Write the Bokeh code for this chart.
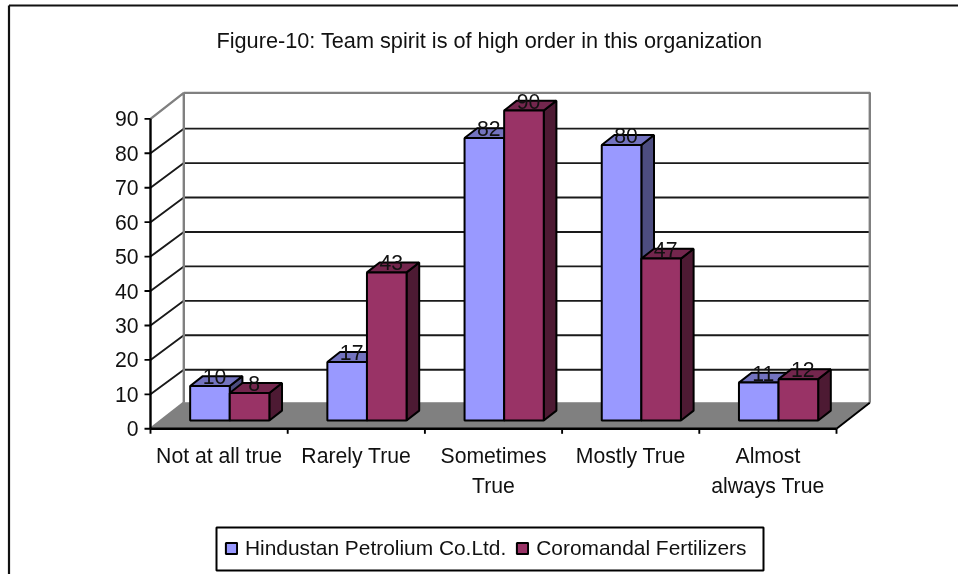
from bokeh.plotting import figure
from bokeh.models import Legend, LegendItem, Range1d
from bokeh.core.properties import value
from bokeh.embed import file_html
from bokeh.resources import INLINE

title = "Figure-10: Team spirit is of high order in this organization"
categories = ["Not at all true", "Rarely True", "Sometimes\nTrue", "Mostly True", "Almost\nalways True"]
hindustan = [10, 17, 82, 80, 11]
coromandal = [8, 43, 90, 47, 12]
y_ticks = [0, 10, 20, 30, 40, 50, 60, 70, 80, 90]
series_names = ["Hindustan Petrolium Co.Ltd.", "Coromandal Fertilizers"]
FACE = ["#9999FF", "#993366"]
TOP = ["#7373BF", "#73264D"]
SIDE = ["#4D4D80", "#4D1A33"]

W, H = 958, 574
X0, Y0 = 150.0, 428.3          # pixel of the axes origin
CAT_W, UNIT = 137.2, 3.444     # pixels per category, per value unit
FONT = "Liberation Sans"
FS = "21.2px"


def xd(px):
    return (px - X0) / CAT_W


def yd(py):
    return (Y0 - py) / UNIT


DX = 33.3 / CAT_W              # depth of the floor
DY = 26.0 / UNIT
BAR_W = 39.6 / CAT_W
F0, F1 = 0.32, 0.70            # bars' front and back, as share of the depth
N = len(categories)
TOP_V = y_ticks[-1]

p = figure(width=W, height=H, output_backend="svg", toolbar_location=None,
           x_range=Range1d(xd(0), xd(W)), y_range=Range1d(yd(H), yd(0)),
           x_axis_location=None, y_axis_location=None, min_border=0,
           background_fill_color="white", border_fill_color="white")
p.styles = {"position": "fixed", "left": "0px", "top": "0px"}
p.grid.visible = False
p.outline_line_color = None

# outer chart border
p.segment([xd(8.5), xd(8.5)], [yd(5), yd(5)], [xd(958), xd(8.5)], [yd(5), yd(574)],
          line_color="#111111", line_width=2.2)

# floor
p.patch([0, N, N + DX, DX], [0, 0, DY, DY], fill_color="#808080", line_color="#808080", line_width=1)

# gridlines: side wall + back wall
gt = y_ticks[1:-1]
p.multi_line([[0, DX, N + DX] for _ in gt], [[v, v + DY - 0.4, v + DY - 0.4] for v in gt],
             line_color="#1a1a1a", line_width=1.9)

# walls' outline
p.multi_line([[0, DX, DX], [DX, N + DX, N + DX], [0, DX]],
             [[TOP_V, TOP_V + DY, DY], [TOP_V + DY, TOP_V + DY, DY], [0, DY]],
             line_color="#808080", line_width=2.4)
p.line([N, N + DX], [0, DY], line_color="black", line_width=1.9)

# bars
front_renderers = []
for j, vals in enumerate([hindustan, coromandal]):
    lefts = [i + 0.5 - BAR_W + j * BAR_W + F0 * DX for i in range(N)]
    rights = [l + BAR_W for l in lefts]
    y0s = [F0 * DY] * N
    tops = [y + v for y, v in zip(y0s, vals)]
    ddx, ddy = (F1 - F0) * DX, (F1 - F0) * DY
    p.patches([[r, r + ddx, r + ddx, r] for r in rights],
              [[b, b + ddy, t + ddy, t] for b, t in zip(y0s, tops)],
              fill_color=SIDE[j], line_color="black", line_width=2)
    p.patches([[l, r, r + ddx, l + ddx] for l, r in zip(lefts, rights)],
              [[t, t, t + ddy, t + ddy] for t in tops],
              fill_color=TOP[j], line_color="black", line_width=2)
    front_renderers.append(
        p.quad(left=lefts, right=rights, bottom=y0s, top=tops,
               fill_color=FACE[j], line_color="black", line_width=2))

# axes lines and ticks
p.line([0, 0], [0, TOP_V], line_color="black", line_width=2.4)
p.line([0, N], [0, 0], line_color="black", line_width=2.4)
p.segment([xd(X0 - 6)] * len(y_ticks), y_ticks, [0] * len(y_ticks), y_ticks, line_color="black", line_width=1.9)
p.multi_line([[i, i] for i in range(N + 1)], [[0, -5 / UNIT] for _ in range(N + 1)],
             line_color="black", line_width=1.9)

p.text([xd(138)] * len(y_ticks), y_ticks, text=[str(v) for v in y_ticks],
       text_font=value(FONT), text_font_size=FS, text_align="right", text_baseline="middle",
       text_color="#111111")

# category labels
cx = [i + 0.5 for i in range(N)]
p.text(cx, [yd(443)] * N, text=categories, text_font=value(FONT), text_font_size=FS,
       text_align="center", text_baseline="top", text_line_height=1.33, text_color="#111111")

# value labels
for j, vals in enumerate([hindustan, coromandal]):
    lx = [i + 0.5 - BAR_W + j * BAR_W + F0 * DX + BAR_W / 2 for i in range(N)]
    ly = [F0 * DY + v for v in vals]
    p.text(lx, ly, text=[str(v) for v in vals], x_offset=4.5, y_offset=-9.5,
           text_font=value(FONT), text_font_size=FS, text_align="center",
           text_baseline="middle", text_color="#111111")

# title
p.text([xd(489)], [yd(40)], text=[title], text_font=value(FONT), text_font_size="21.7px",
       text_align="center", text_baseline="middle", text_color="#111111")

# legend box, with the legend itself on top of it
p.quad(left=[xd(216)], right=[xd(763)], bottom=[yd(570)], top=[yd(527)],
       fill_color="white", line_color="black", line_width=2)
legend = Legend(items=[LegendItem(label=series_names[0], renderers=[front_renderers[0]]),
                       LegendItem(label=series_names[1], renderers=[front_renderers[1]])],
                orientation="horizontal", location=(224, 14),
                label_text_font=FONT, label_text_font_size="20.9px", label_text_color="#111111",
                glyph_width=14, glyph_height=14, label_standoff=7, spacing=9,
                margin=0, padding=5, border_line_color=None, background_fill_alpha=0)
p.add_layout(legend)

open("out.html", "w").write(file_html(p, INLINE))
